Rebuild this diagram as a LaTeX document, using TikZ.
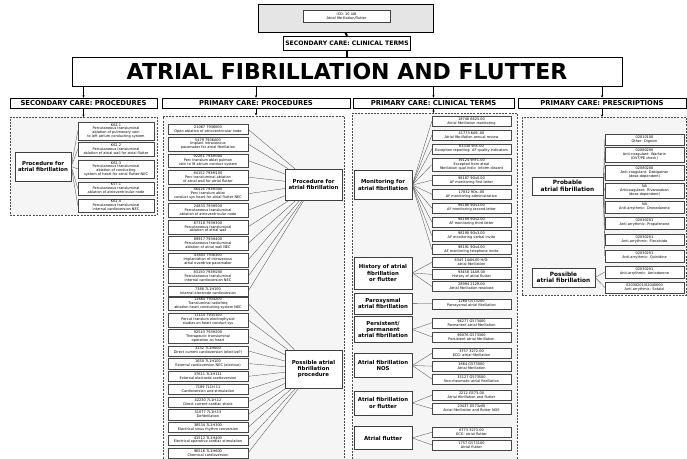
\documentclass[tikz,border=0pt]{standalone}
\usepackage{fontspec}
\setmainfont{DejaVu Sans}
\usetikzlibrary{positioning,arrows.meta,shadows}
\tikzset{
  panel/.style={draw=gray!60!black, dash pattern=on 2pt off 1.2pt, fill=gray!8, line width=0.5pt, inner sep=0pt},
  head/.style={draw=black, fill=white, line width=0.5pt, inner sep=0pt, minimum height=10pt, font=\bfseries\fontsize{6.8}{7}\selectfont},
  cbox/.style={draw=gray!55!black, fill=white, line width=0.35pt, align=center, inner xsep=0.5pt, inner ysep=0.8pt, anchor=north,
     font=\fontsize{3.5}{3.9}\selectfont, drop shadow={shadow xshift=0.45pt, shadow yshift=-0.45pt, fill=gray!60}},
  b2/.style={cbox, minimum height=10.2pt},
  b3/.style={cbox, minimum height=13.8pt},
  b4/.style={cbox, minimum height=17.5pt},
  rb2/.style={cbox, minimum height=11.5pt},
  rb3/.style={cbox, minimum height=15pt},
  scw/.style={minimum width=76pt},
  pcw/.style={minimum width=80pt},
  clw/.style={minimum width=79pt},
  prw/.style={minimum width=79pt},
  lab/.style={draw=gray!50!black, fill=white, line width=0.45pt, align=center, inner sep=1pt, font=\bfseries\fontsize{5.4}{6.3}\selectfont},
  conn/.style={draw=gray!55!black, line width=0.3pt},
  arr/.style={-{Stealth[length=2.5pt,width=2.2pt]}, line width=0.4pt},
  thick line/.style={line width=1.8pt}
}
\begin{document}
\begin{tikzpicture}[x=1pt,y=-1pt]
\useasboundingbox (0,0) rectangle (687,458);

% top
\node[draw=black, fill=gray!20, line width=0.5pt, minimum width=175pt, minimum height=28pt, inner sep=0pt] (icd) at (345.5,18.5) {};
\node[draw=gray!50!black, fill=white, line width=0.3pt, minimum width=87pt, minimum height=12pt, align=center, inner sep=0.5pt,
      font=\fontsize{3.5}{3.9}\selectfont] (icdt) at (346.5,16.5) {ICD: 10 I48\\Atrial fibrillation/flutter};
\node[head, minimum width=127pt, minimum height=14pt, font=\bfseries\fontsize{6.1}{7}\selectfont] (sct) at (347,43) {SECONDARY CARE: CLINICAL TERMS};
\node[draw=black, fill=white, line width=0.6pt, minimum width=550pt, minimum height=29pt, inner sep=0pt,
      font=\bfseries\fontsize{22}{23}\selectfont] (ttl) at (347,71.5) {ATRIAL FIBRILLATION AND FLUTTER};
\draw[thick line] (icd.south) -- (sct.north);
\draw[thick line] (sct.south) -- (ttl.north);

% headings
\node[head, minimum width=147pt] (h1) at (83.5,103) {SECONDARY CARE: PROCEDURES};
\node[head, minimum width=188pt] (h2) at (256,103) {PRIMARY CARE: PROCEDURES};
\node[head, minimum width=161pt] (h3) at (433.5,103) {PRIMARY CARE: CLINICAL TERMS};
\node[head, minimum width=168pt] (h4) at (602,103) {PRIMARY CARE: PRESCRIPTIONS};

% panels
\node[panel, anchor=north west, minimum width=147pt, minimum height=98pt] (P1) at (10,117) {};
\node[panel, anchor=north west, minimum width=181pt, minimum height=350pt] (P2) at (163,115.5) {};
\node[panel, anchor=north west, minimum width=165pt, minimum height=350pt] (P3) at (352,113) {};
\node[panel, anchor=north west, minimum width=164pt, minimum height=178pt] (P4) at (522,117) {};

\foreach \h in {h1,h2,h3,h4} \draw[arr] (\h.north |- ttl.south) -- (\h.north);
\foreach \h/\p in {h1/P1,h2/P2,h3/P3,h4/P4} \draw[arr] (\h.south) -- (\h.south |- \p.north);

% ---------- secondary care procedures
\node[lab, minimum width=56pt, minimum height=29pt] (SL) at (43,166.5) {Procedure for\\atrial fibrillation};
\node[b4, scw] (s1) at (116,122) {K62.1\\Percutaneous transluminal\\ablation of pulmonary vein\\to left atrium conducting system};
\node[b3, scw] (s2) at (116,142) {K62.2\\Percutaneous transluminal\\ablation of atrial wall for atrial flutter};
\node[b4, scw] (s3) at (116,160) {K62.3\\Percutaneous transluminal\\ablation of conducting\\system of heart for atrial flutter NEC};
\node[b3, scw] (s4) at (116,181.5) {K57.1\\Percutaneous transluminal\\ablation of atrioventricular node};
\node[b3, scw] (s5) at (116,198.5) {K62.4\\Percutaneous transluminal\\internal cardioversion NEC};
\foreach \i in {1,...,5} \draw[conn] (SL.east) -- (s\i.west);

% ---------- primary care procedures
\node[lab, minimum width=57pt, minimum height=31pt] (L1) at (313.5,184.5) {Procedure for\\atrial fibrillation};
\node[lab, minimum width=57pt, minimum height=38pt] (L2) at (313.5,369) {Possible atrial\\fibrillation\\procedure};

\node[b2, pcw] (p1) at (208,124) {21067 7936000\\Open ablation of atrioventricular node};
\node[b3, pcw, below=2.4pt of p1] (p2) {5479 7936A00\\Implant intravenous\\pacemaker for atrial fibrillation};
\node[b3, pcw, below=2.4pt of p2] (p3) {92261 793M000\\Perc translum ablat pulmon\\vein to lft atrium conduct system};
\node[b3, pcw, below=2.4pt of p3] (p4) {84152 793M100\\Perc transluminal ablation\\of atrial wall for atrial flutter};
\node[b3, pcw, below=2.4pt of p4] (p5) {86416 793M300\\Perc translum ablat\\conduct sys heart for atrial flutter NEC};
\node[b3, pcw, below=2.4pt of p5] (p6) {24833 793H500\\Percutaneous transluminal\\ablation of atrioventricular node};
\node[b3, pcw, below=2.4pt of p6] (p7) {67318 793H300\\Percutaneous transluminal\\ablation of atrial wall};
\node[b3, pcw, below=2.4pt of p7] (p8) {89917 793H400\\Percutaneous transluminal\\ablation of atrial wall NEC};
\node[b3, pcw, below=2.4pt of p8] (p9) {43803 7936300\\Implantation of intravenous\\atrial overdrive pacemaker};
\node[b3, pcw, below=2.4pt of p9] (p10) {83150 793M200\\Percutaneous transluminal\\internal cardioversion NEC};
\node[b2, pcw, below=2.4pt of p10] (p11) {7388 7L1H100\\Internal electrode cardioversion};
\foreach \i in {1,...,11} \draw[conn] (p\i.east) -- (L1);

\node[b3, pcw] (c1) at (208,296.5) {12664 7934200\\Transluminal radiofreq\\ablation heart conducting system NEC};
\node[b3, pcw, below=2.2pt of c1] (c2) {11114 7935100\\Percut translum electrophysiol\\studies on heart conduct sys};
\node[b3, pcw, below=2.2pt of c2] (c3) {92543 793H200\\Therapeutic transluminal\\operation on heart};
\node[b2, pcw, below=2.2pt of c3] (c4) {3232 7L1H000\\Direct current cardioversion (elective?)};
\node[b2, pcw, below=2.2pt of c4] (c5) {1650 7L1H100\\External cardioversion NEC (elective)};
\node[b2, pcw, below=2.2pt of c5] (c6) {37611 7L1H111\\External electrode cardioversion};
\node[b2, pcw, below=2.2pt of c6] (c7) {7189 7L1H.11\\Cardioversion and stimulation};
\node[b2, pcw, below=2.2pt of c7] (c8) {42230 7L1H.12\\Direct current cardiac shock};
\node[b2, pcw, below=2.2pt of c8] (c9) {31077 7L1H.13\\Defibrillation};
\node[b2, pcw, below=2.2pt of c9] (c10) {38534 7L1H300\\Electrical sinus rhythm conversion};
\node[b2, pcw, below=2.2pt of c10] (c11) {41512 7L1H400\\Electrical operative cardiac stimulation};
\node[b2, pcw, below=2.2pt of c11] (c12) {96516 7L1H600\\Chemical cardioversion};
\foreach \i in {1,...,12} \draw[conn] (c\i.east) -- (L2);

% ---------- primary care clinical terms
\node[lab, minimum width=58pt, minimum height=29pt] (M) at (383,185) {Monitoring for\\atrial fibrillation};
\node[lab, minimum width=58pt, minimum height=32pt] (H) at (383,273) {History of atrial\\fibrillation\\or flutter};
\node[lab, minimum width=58pt, minimum height=21pt] (PX) at (383,303.6) {Paroxysmal\\atrial fibrillation};
\node[lab, minimum width=58pt, minimum height=26pt] (PP) at (383,329.5) {Persistent/\\permanent\\atrial fibrillation};
\node[lab, minimum width=58pt, minimum height=24pt] (N) at (383,365.5) {Atrial fibrillation\\NOS};
\node[lab, minimum width=58pt, minimum height=24pt] (F) at (383,403) {Atrial fibrillation\\or flutter};
\node[lab, minimum width=58pt, minimum height=23pt] (FL) at (383,438) {Atrial flutter};

\node[b2, clw] (m1) at (471.5,116) {18746 662S.00\\Atrial fibrillation monitoring};
\node[b2, clw, below=3.3pt of m1] (m2) {41773 6A9..00\\Atrial fibrillation annual review};
\node[b2, clw, below=3.3pt of m2] (m3) {63330 9hF..00\\Exception reporting: AF quality indicators};
\node[b3, clw, below=3.3pt of m3] (m4) {39124 9hF1.00\\Excepted from atrial\\fibrillation qual indic: Inform dissent};
\node[b2, clw, below=3.3pt of m4] (m5) {98187 9Os0.00\\AF monitoring first letter};
\node[b2, clw, below=3.3pt of m5] (m6) {17832 9Os..00\\AF monitoring administration};
\node[b2, clw, below=3.3pt of m6] (m7) {98188 9Os1.00\\AF monitoring second letter};
\node[b2, clw, below=3.3pt of m7] (m8) {98189 9Os2.00\\AF monitoring third letter};
\node[b2, clw, below=3.3pt of m8] (m9) {98190 9Os3.00\\AF monitoring verbal invite};
\node[b2, clw, below=3.3pt of m9] (m10) {98191 9Os4.00\\AF monitoring telephone invite};
\foreach \i in {1,...,10} \draw[conn] (M.east) -- (m\i.west);

\node[b2, clw] (k1) at (471.5,257) {6345 14AN.00 H/O:\\atrial fibrillation};
\node[b2, clw, below=1.5pt of k1] (k2) {93458 14AR.00\\History of atrial flutter};
\node[b2, clw, below=1.5pt of k2] (k3) {28994 212R.00\\Atrial fibrillation resolved};
\foreach \i in {1,2,3} \draw[conn] (H.east) -- (k\i.west);

\node[b2, clw] (x1) at (471.5,298.5) {1268 G573200\\Paroxysmal atrial fibrillation};
\draw[conn] (PX.east) -- (x1.west);

\node[b2, clw] (q1) at (471.5,317.5) {96277 G573400\\Permanent atrial fibrillation};
\node[b2, clw, below=3.5pt of q1] (q2) {96076 G573300\\Persistent atrial fibrillation};
\foreach \i in {1,2} \draw[conn] (PP.east) -- (q\i.west);

\node[b2, clw] (n1) at (471.5,348) {3757 3272.00\\ECG: atrial fibrillation};
\node[b2, clw, below=2.3pt of n1] (n2) {1664 G573000\\Atrial fibrillation};
\node[b2, clw, below=2.3pt of n2] (n3) {35127 G573500\\Non-rheumatic atrial fibrillation};
\foreach \i in {1,2,3} \draw[conn] (N.east) -- (n\i.west);

\node[b2, clw] (f1) at (471.5,390) {2212 G573.00\\Atrial fibrillation and flutter};
\node[b2, clw, below=2.8pt of f1] (f2) {23437 G573z00\\Atrial fibrillation and flutter NOS};
\foreach \i in {1,2} \draw[conn] (F.east) -- (f\i.west);

\node[b2, clw] (g1) at (471.5,427) {6773 3273.00\\ECG: atrial flutter};
\node[b2, clw, below=2pt of g1] (g2) {1757 G573100\\Atrial flutter};
\foreach \i in {1,2} \draw[conn] (FL.east) -- (g\i.west);

% ---------- primary care prescriptions
\node[lab, minimum width=71pt, minimum height=18pt, font=\bfseries\fontsize{5.8}{6.6}\selectfont] (PB) at (567.5,186) {Probable\\atrial fibrillation};
\node[lab, minimum width=63pt, minimum height=19pt, font=\bfseries\fontsize{5.8}{6.6}\selectfont] (PS) at (563.5,277.5) {Possible\\atrial fibrillation};

\node[rb2, prw] (r1) at (644.5,133.5) {02010100\\Other: Digoxin};
\node[rb3, prw] (r2) at (644.5,147) {02080200\\Anti-coagulant: Warfarin\\(DVT/PE check)};
\node[rb3, prw] (r3) at (644.5,165) {02080200\\Anti-coagulant: Dabigatran\\(dose-dependent)};
\node[rb3, prw] (r4) at (644.5,183) {NA\\Anticoagulant: Rivaroxaban\\(dose-dependent)};
\node[rb2, prw] (r5) at (644.5,201) {NA\\Anti-arrythmic: Dronedarone};
\node[rb2, prw] (r6) at (644.5,217) {02030201\\Anti-arrythmic: Propafenone};
\node[rb2, prw] (r7) at (644.5,233.5) {02030201\\Anti-arrythmic: Flecainide};
\node[rb2, prw] (r8) at (644.5,250) {02030201\\Anti-arrythmic: Quinidine};
\node[rb2, prw] (r9) at (644.5,266) {02030201\\Anti-arrythmic: Amiodarone};
\node[rb2, prw] (r10) at (644.5,281.5) {02030201/02040000\\Anti-arrythmic: Sotalol};
\foreach \i in {1,...,8} \draw[conn] (PB.east) -- (r\i.west);
\foreach \i in {9,10} \draw[conn] (PS.east) -- (r\i.west);
\end{tikzpicture}
\end{document}
